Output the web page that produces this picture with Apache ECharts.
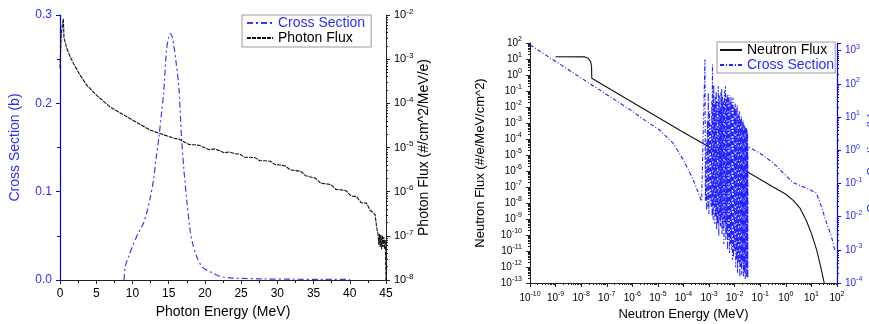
<!DOCTYPE html>
<html>
<head>
<meta charset="utf-8">
<script src="https://cdn.jsdelivr.net/npm/echarts@6/dist/echarts.min.js"></script>
<style>
  html, body { margin: 0; background: #fff; }
  #chart { width: 869px; height: 324px; }
</style>
</head>
<body>
<div id="chart"></div>
<script>
// 左图：光子截面 (b) 与光子通量
const photonCsEnergy = [8.85, 9.0, 9.5, 10.0, 10.8, 11.5, 12.0, 12.5, 12.9, 13.3, 13.6, 14.0, 14.3, 14.7, 15.0, 15.2, 15.5, 15.7, 16.0, 16.4, 16.8, 17.1, 17.5, 17.9, 18.2, 18.9, 19.6, 20.3, 21.2, 22.1, 23.5, 25, 28, 32, 36, 40];
const photonCsValue = [0, 0.015, 0.027, 0.038, 0.053, 0.064, 0.077, 0.095, 0.113, 0.14, 0.158, 0.188, 0.211, 0.26, 0.275, 0.279, 0.275, 0.266, 0.248, 0.219, 0.158, 0.125, 0.09, 0.06, 0.045, 0.026, 0.015, 0.011, 0.0075, 0.004, 0.0025, 0.0018, 0.0012, 0.0009, 0.0007, 0.0006];

const photonFluxEnergy = [0, 0.18, 0.37, 0.46, 0.55, 0.69, 0.92, 1.38, 1.84, 2.76, 3.68, 5.0, 6.9, 10, 12.4, 13.7,
  15.0, 15.7, 16.4, 17.1, 17.8, 18.5, 19.2, 19.9, 20.6, 21.3, 22.0, 22.7, 23.4, 24.1, 24.8, 25.5, 26.2, 26.9, 27.6, 28.3,
  29.0, 29.7, 30.4, 31.1, 31.8, 32.5, 33.2, 33.9, 34.6, 35.3, 36.0, 36.7, 37.4, 38.1, 38.8, 39.5, 40.2, 40.9, 41.6, 42.3,
  42.8, 43.2, 43.5, 43.7, 43.9, 44.0, 44.1, 44.2, 44.3, 44.4, 44.5, 44.6, 44.7, 44.8, 44.9, 45.0];
const photonFluxValue = [6.2e-4, 3.9e-3, 4.2e-3, 8.3e-3, 3.0e-3, 2.5e-3, 1.8e-3, 1.15e-3, 8.1e-4, 4.4e-4, 2.6e-4, 1.55e-4, 8.3e-5, 4.2e-5, 2.5e-5, 2.1e-5,
  1.78e-5, 1.62e-5, 1.55e-5, 1.35e-5, 1.17e-5, 1.15e-5, 1.12e-5, 1.0e-5, 8.9e-6, 9.3e-6, 8.5e-6, 7.6e-6, 7.9e-6, 7.2e-6, 7.1e-6, 6.0e-6, 6.0e-6, 5.9e-6, 5.0e-6, 5.0e-6,
  4.9e-6, 4.1e-6, 4.0e-6, 3.8e-6, 3.1e-6, 3.0e-6, 2.9e-6, 2.3e-6, 2.14e-6, 2.0e-6, 1.55e-6, 1.51e-6, 1.45e-6, 1.12e-6, 1.10e-6, 1.05e-6, 7.9e-7, 7.8e-7, 5.6e-7, 5.5e-7,
  3.8e-7, 3.4e-7, 3.0e-7, 1.6e-7, 1.1e-7, 6.3e-8, 1.1e-7, 5.6e-8, 1.05e-7, 5e-8, 1e-7, 5.6e-8, 9.5e-8, 5e-8, 8e-8, 1e-8];

// 右图：中子通量与中子截面
const neutronFluxEnergy = [1e-9, 1.4e-8, 1.9e-8, 2.35e-8, 2.55e-8, 2.6e-8, 1e-6, 7.2e-5, 1e-3, 3.9e-2, 0.32, 1.0, 2.0, 3.5, 6.3, 10, 15.8, 22.4, 28.8, 31.6];
const neutronFluxValue = [13.8, 13.5, 11, 6.8, 3.3, 0.62, 0.02, 3.5e-4, 3.2e-5, 7.2e-7, 1e-7, 3.5e-8, 1.4e-8, 5e-9, 8e-10, 1.26e-10, 1.26e-11, 1.26e-12, 2e-13, 1e-13];

// 截面：1/v 段 + 共振区 (峰/谷交替) + 高能段
const neutronCsEnergy = [1e-10, 1e-8, 1e-6, 2e-6, 1.2e-5, 4e-5, 9.8e-5, 2.4e-4, 5.1e-4,
  6.9e-4, 7.2e-4, 7.6e-4, 8.0e-4, 8.6e-4, 8.9e-4, 9.3e-4, 9.8e-4, 1.05e-3, 1.1e-3, 1.15e-3, 1.2e-3, 1.28e-3, 1.32e-3,
  1.35e-3, 1.45e-3, 1.52e-3, 1.56e-3, 1.6e-3, 1.68e-3, 1.75e-3, 1.82e-3, 1.9e-3, 1.98e-3, 2.05e-3, 2.15e-3,
  2.3e-3, 2.4e-3, 2.5e-3, 2.6e-3, 2.7e-3, 2.8e-3, 2.9e-3, 3.0e-3, 3.1e-3, 3.2e-3, 3.35e-3, 3.5e-3, 3.65e-3, 3.8e-3,
  4.0e-3, 4.2e-3, 4.35e-3, 4.5e-3, 4.7e-3, 4.9e-3, 5.1e-3, 5.3e-3, 5.5e-3, 5.8e-3, 6.0e-3, 6.3e-3, 6.6e-3, 6.9e-3,
  7.2e-3, 7.6e-3, 7.9e-3, 8.2e-3, 8.6e-3, 9.0e-3, 9.5e-3, 1.0e-2, 1.05e-2, 1.1e-2, 1.15e-2, 1.2e-2, 1.25e-2, 1.3e-2,
  1.38e-2, 1.45e-2, 1.52e-2, 1.6e-2, 1.68e-2, 1.75e-2, 1.82e-2, 1.9e-2, 1.98e-2, 2.05e-2, 2.12e-2, 2.2e-2,
  2.3e-2, 2.4e-2, 2.5e-2, 2.6e-2, 2.7e-2, 2.8e-2, 2.9e-2, 2.95e-2, 3.0e-2, 3.1e-2, 3.2e-2, 3.25e-2, 3.3e-2,
  0.1, 0.32, 0.59, 1.95, 6.5, 15.8, 24.5, 39, 60, 81];
const neutronCsValue = [1500, 150, 15, 10, 4.0, 1.6, 0.52, 0.13, 0.029,
  540, 0.03, 2.0, 0.015, 8, 0.02, 54, 0.012, 15, 0.03, 6, 0.02, 30, 0.01,
  380, 0.008, 90, 0.02, 25, 0.006, 40, 0.01, 60, 0.004, 30, 0.006,
  85, 0.0026, 45, 0.008, 20, 0.005, 55, 0.01, 70, 0.003, 40, 0.004, 30, 0.0015,
  60, 0.006, 85, 0.002, 35, 0.003, 50, 0.001, 40, 0.002, 45, 0.0008, 30, 0.0015,
  40, 0.001, 28, 0.0005, 38, 0.0006, 20, 0.0009, 25, 0.0003, 18, 0.0005, 23, 0.0002,
  12, 0.0004, 15, 0.00015, 9, 0.0003, 10.5, 0.00018, 7, 0.0004, 8, 0.00016,
  6, 0.0002, 5.5, 0.00013, 5, 0.00025, 4.5, 0.00015, 4.2, 0.0003, 3.5, 0.00014, 1.3,
  0.8, 0.42, 0.26, 0.105, 0.072, 0.051, 0.02, 0.0065, 0.0026, 0.001];

const zip = (xs, ys) => xs.map((x, i) => [x, ys[i]]);

const FONT = 'Liberation Sans';
const BLUE = '#2b2bff';
const legendNames = { 'Cross Section (g)': 'Cross Section', 'Cross Section (n)': 'Cross Section' };

// 10 的幂次标签，指数用上标
const powLabel = (v) => {
  const e = Math.log10(v);
  if (Math.abs(e - Math.round(e)) > 1e-6) return '';
  return '10{s|' + Math.round(e) + '}';
};
const powRich = (color, size) => ({
  s: { fontSize: size - 3, fontFamily: FONT, color: color, padding: [0, 0, 7, 0] }
});

const chart = echarts.init(document.getElementById('chart'), null, { renderer: 'canvas' });

const option = {
  animation: false,
  backgroundColor: '#fff',
  grid: [
    { left: 60, top: 15, width: 326, height: 265, outerBoundsMode: 'none' },
    { left: 530, top: 43, width: 307, height: 240, outerBoundsMode: 'none' }
  ],
  legend: [
    {
      left: 242, top: 15, orient: 'vertical', itemGap: 1, itemWidth: 26, itemHeight: 10,
      borderColor: '#999', borderWidth: 1, padding: [1, 6, 2, 4],
      itemStyle: { opacity: 0 },
      formatter: (n) => legendNames[n] || n,
      textStyle: { fontFamily: FONT, fontSize: 14 },
      data: [
        { name: 'Cross Section (g)', textStyle: { color: BLUE } },
        { name: 'Photon Flux', textStyle: { color: '#000' } }
      ]
    },
    {
      left: 717, top: 42, orient: 'vertical', itemGap: 1, itemWidth: 22, itemHeight: 10,
      borderColor: '#999', borderWidth: 1, padding: [1, 1, 1, 2],
      itemStyle: { opacity: 0 },
      formatter: (n) => legendNames[n] || n,
      textStyle: { fontFamily: FONT, fontSize: 14 },
      data: [
        { name: 'Neutron Flux', textStyle: { color: '#000' } },
        { name: 'Cross Section (n)', textStyle: { color: BLUE } }
      ]
    }
  ],
  xAxis: [
    {
      gridIndex: 0, type: 'value', min: 0, max: 45, interval: 5,
      name: 'Photon Energy (MeV)', nameLocation: 'middle', nameGap: 23,
      nameTextStyle: { fontFamily: FONT, fontSize: 14, color: '#000' },
      axisLine: { lineStyle: { color: '#222' } },
      axisTick: { lineStyle: { color: '#222' }, length: 4 },
      minorTick: { show: true, splitNumber: 2, length: 3, lineStyle: { color: '#222' } },
      axisLabel: { fontFamily: FONT, fontSize: 12, color: '#000' },
      splitLine: { show: false }
    },
    {
      gridIndex: 1, type: 'log', logBase: 10, min: 1e-10, max: 100, interval: 1,
      name: 'Neutron Energy (MeV)', nameLocation: 'middle', nameGap: 22,
      nameTextStyle: { fontFamily: FONT, fontSize: 13, color: '#000' },
      axisLine: { lineStyle: { color: '#222' } },
      axisTick: { lineStyle: { color: '#222' }, length: 4 },
      minorTick: { show: true, splitNumber: 9, length: 2, lineStyle: { color: '#222' } },
      axisLabel: { fontFamily: FONT, fontSize: 10, color: '#000', formatter: powLabel, rich: powRich('#000', 10), showMinLabel: true, showMaxLabel: true },
      splitLine: { show: false }
    }
  ],
  yAxis: [
    {
      gridIndex: 0, type: 'value', min: 0, max: 0.3, interval: 0.1,
      name: 'Cross Section (b)', nameLocation: 'middle', nameGap: 38,
      nameTextStyle: { fontFamily: FONT, fontSize: 14, color: BLUE },
      axisLine: { show: true, lineStyle: { color: '#0000ff', width: 1.2 } },
      axisTick: { show: true, lineStyle: { color: '#0000ff' }, length: 4 },
      minorTick: { show: true, splitNumber: 2, length: 3, lineStyle: { color: '#0000ff' } },
      axisLabel: { fontFamily: FONT, fontSize: 12, color: BLUE, formatter: (v) => v.toFixed(1) },
      splitLine: { show: false }
    },
    {
      gridIndex: 0, type: 'log', logBase: 10, min: 1e-8, max: 1e-2, interval: 1, position: 'right',
      name: 'Photon Flux (#/cm^2/MeV/e)', nameLocation: 'middle', nameGap: 31, nameRotate: 90,
      nameTextStyle: { fontFamily: FONT, fontSize: 14, color: '#000' },
      axisLine: { show: true, lineStyle: { color: '#222' } },
      axisTick: { show: true, lineStyle: { color: '#222' }, length: 4 },
      minorTick: { show: true, splitNumber: 9, length: 2, lineStyle: { color: '#222' } },
      axisLabel: { fontFamily: FONT, fontSize: 11, color: '#000', formatter: powLabel, rich: powRich('#000', 11) },
      splitLine: { show: false }
    },
    {
      gridIndex: 1, type: 'log', logBase: 10, min: 1e-13, max: 100, interval: 1,
      name: 'Neutron Flux (#/e/MeV/cm^2)', nameLocation: 'middle', nameGap: 43,
      nameTextStyle: { fontFamily: FONT, fontSize: 13, color: '#000' },
      axisLine: { show: true, lineStyle: { color: '#222' } },
      axisTick: { show: true, lineStyle: { color: '#222' }, length: 4 },
      minorTick: { show: true, splitNumber: 9, length: 2, lineStyle: { color: '#222' } },
      axisLabel: { fontFamily: FONT, fontSize: 10, color: '#000', formatter: powLabel, rich: powRich('#000', 10) },
      splitLine: { show: false }
    },
    {
      gridIndex: 1, type: 'log', logBase: 10, min: 1e-4, max: 1700, interval: 1, position: 'right',
      name: 'Cross Section (b)', nameLocation: 'middle', nameGap: 18, nameRotate: 90,
      nameTextStyle: { fontFamily: FONT, fontSize: 13, color: BLUE },
      axisLine: { show: true, lineStyle: { color: '#0000ff', width: 1.2 } },
      axisTick: { show: true, lineStyle: { color: '#0000ff' }, length: 4 },
      minorTick: { show: true, splitNumber: 9, length: 2, lineStyle: { color: '#0000ff' } },
      axisLabel: { fontFamily: FONT, fontSize: 10, color: BLUE, formatter: powLabel, rich: powRich(BLUE, 10) },
      splitLine: { show: false }
    }
  ],
  series: [
    {
      name: 'Cross Section (g)', type: 'line', xAxisIndex: 0, yAxisIndex: 0,
      data: zip(photonCsEnergy, photonCsValue), symbol: 'none', smooth: 0.3,
      lineStyle: { color: '#3a3aff', width: 1.2, type: [6, 3, 2, 3] }
    },
    {
      name: 'Photon Flux', type: 'line', xAxisIndex: 0, yAxisIndex: 1,
      data: zip(photonFluxEnergy, photonFluxValue), symbol: 'none',
      lineStyle: { color: '#111', width: 1.1, type: [4, 1] }
    },
    {
      name: 'Neutron Flux', type: 'line', xAxisIndex: 1, yAxisIndex: 2,
      data: zip(neutronFluxEnergy, neutronFluxValue), symbol: 'none',
      lineStyle: { color: '#111', width: 1.1 }
    },
    {
      name: 'Cross Section (n)', type: 'line', xAxisIndex: 1, yAxisIndex: 3,
      data: zip(neutronCsEnergy, neutronCsValue), symbol: 'none',
      lineStyle: { color: '#2222ff', width: 1.1, type: [4, 2, 1, 2] }
    }
  ]
};

chart.setOption(option);
window.addEventListener('resize', () => chart.resize());
</script>
</body>
</html>
